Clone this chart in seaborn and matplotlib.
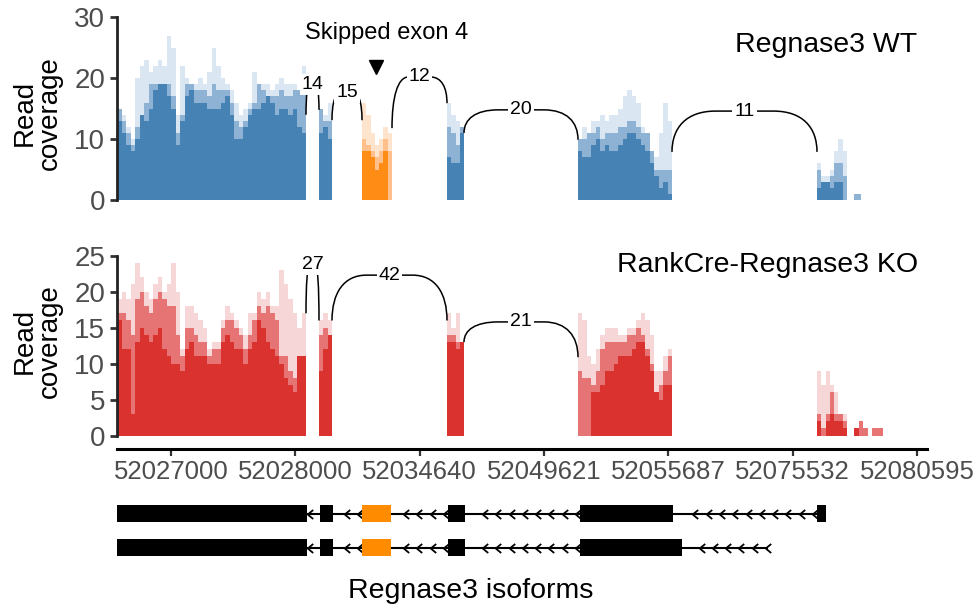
import numpy as np
import matplotlib
matplotlib.use("Agg")
import matplotlib.pyplot as plt
from matplotlib.path import Path
from matplotlib.patches import PathPatch
import seaborn as sns

# ---------------- data ----------------
# exon blocks on the compressed genomic axis (start, end)
wt_exons = [(0, 189), (202, 215), (245, 275), (330, 347), (461, 555), (700, 730), (737, 744)]
ko_exons = [(0, 189), (202, 215), (330, 347), (461, 555), (700, 730), (737, 751), (755, 766)]

# read coverage per exon: lowest, middle and highest replicate
wt_low = [
    [13, 11, 9, 8, 10, 14, 13, 15, 18, 19, 19, 17, 15, 9, 13, 17, 18, 16, 16, 16, 15,
     15, 15, 16, 17, 14, 10, 10, 12, 14, 15, 15, 16, 17, 16, 14, 15, 15, 14, 15, 12, 11],
    [11, 12, 10],
    [8, 8, 7, 5, 6, 8, 0],
    [7, 6, 6, 11],
    [8, 7, 7, 9, 10, 8, 9, 8, 8, 9, 10, 11, 11, 10, 9, 8, 6, 4, 2, 3, 1],
    [2, 3, 3, 2, 3, 3, 0],
    [0],
]
wt_mid = [
    [15, 13, 11, 9, 12, 14, 16, 19, 19, 19, 19, 19, 17, 11, 14, 19, 19, 18, 18, 18, 17,
     19, 18, 18, 18, 16, 13, 12, 13, 15, 16, 19, 18, 17, 17, 17, 18, 17, 17, 18, 18, 18],
    [15, 13, 13],
    [10, 9, 8, 7, 8, 10, 8],
    [12, 11, 9, 12],
    [10, 10, 11, 11, 12, 10, 11, 11, 11, 12, 12, 13, 13, 12, 11, 11, 8, 5, 5, 5, 5],
    [5, 3, 3, 4, 6, 6, 4],
    [1],
]
wt_high = [
    [15, 14, 12, 10, 20, 22, 23, 21, 22, 23, 22, 27, 25, 14, 22, 20, 19, 19, 20, 19, 21,
     25, 22, 20, 19, 18, 16, 14, 15, 16, 21, 19, 19, 19, 18, 19, 20, 19, 19, 19, 18, 22],
    [15, 14, 16],
    [16, 14, 11, 9, 10, 12, 11],
    [16, 14, 13, 12],
    [10, 12, 11, 13, 13, 14, 13, 14, 14, 15, 17, 18, 17, 16, 12, 11, 8, 7, 11, 16, 13],
    [6, 4, 4, 5, 8, 10, 8],
    [1],
]
wt_skipped = 2  # index of the alternatively spliced exon

ko_low = [
    [16, 12, 12, 3, 13, 15, 14, 13, 14, 15, 12, 11, 10, 10, 9, 12, 13, 11, 11, 11, 10,
     10, 10, 13, 14, 13, 12, 12, 10, 12, 13, 16, 15, 13, 12, 11, 10, 8, 7, 6, 11, 11],
    [9, 12, 14],
    [13, 13, 12, 13],
    [0, 0, 0, 6, 6, 7, 9, 9, 10, 11, 11, 11, 12, 13, 13, 11, 9, 6, 5, 7, 7],
    [2, 0, 2, 3, 2, 2, 1],
    [1, 0, 0],
    [0, 0],
]
ko_mid = [
    [17, 17, 16, 14, 19, 20, 18, 17, 19, 20, 19, 18, 18, 14, 11, 15, 15, 14, 13, 13, 11,
     12, 12, 15, 16, 16, 15, 14, 12, 14, 16, 18, 17, 18, 17, 16, 11, 11, 9, 8, 11, 11],
    [14, 15, 14],
    [14, 14, 13, 13],
    [9, 8, 8, 7, 9, 12, 13, 13, 13, 13, 13, 14, 14, 15, 14, 12, 10, 6, 7, 9, 11],
    [3, 1, 3, 6, 3, 3, 2],
    [1, 2, 1],
    [1, 1],
]
ko_high = [
    [19, 20, 19, 21, 24, 22, 20, 19, 21, 22, 20, 21, 24, 20, 12, 18, 18, 17, 16, 15, 12,
     13, 13, 16, 18, 17, 16, 15, 14, 17, 17, 20, 19, 20, 18, 18, 23, 21, 19, 17, 15, 17],
    [16, 17, 16],
    [17, 15, 17, 13],
    [17, 16, 11, 10, 12, 14, 15, 15, 15, 14, 14, 15, 15, 16, 17, 16, 14, 9, 9, 11, 12],
    [9, 7, 9, 7, 6, 3, 3],
    [1, 2, 1],
    [1, 1],
]

# splice junctions: donor, acceptor, read count
wt_junctions = [(189, 202, 14), (215, 245, 15), (275, 330, 12), (347, 461, 20), (555, 700, 11)]
ko_junctions = [(189, 202, 27), (215, 330, 42), (347, 461, 21)]
# arc anchors: left height, right height, apex height
wt_arc_y = [(14.0, 14.8, 19.0), (13.1, 13.1, 17.7), (11.8, 15.9, 20.2), (11.0, 9.9, 14.8), (7.9, 7.9, 14.6)]
ko_arc_y = [(17.0, 16.0, 23.8), (16.0, 16.0, 22.3), (13.0, 10.9, 15.8)]

# axis ticks
tick_labels = ["52027000", "52028000", "52034640", "52049621", "52055687", "52075532", "52080595"]
wt_yticks = [0, 10, 20, 30]
ko_yticks = [0, 5, 10, 15, 20, 25]

# transcript models
iso_exons = [
    [(0, 190), (203, 216), (245, 274), (331, 348), (463, 556), (700, 709)],
    [(0, 190), (203, 216), (245, 274), (331, 348), (463, 565)],
]
iso_line_end = [700, 651]
iso_alt_exon = 2

# ---------------- style ----------------
sns.set_style("white")
plt.rcParams["font.family"] = ["Liberation Sans", "DejaVu Sans"]
plt.rcParams["text.color"] = "black"

BLUE = ["#dae6f1", "#8eb2d4", "#4682b4"]
ORANGE = ["#ffe4cd", "#ffc08c", "#ff8c14"]
RED = ["#f6d6d6", "#e67474", "#d9322f"]
TICK_GRAY = "#4d4d4d"
AXIS_COL = "#222222"

W, H = 975, 604
fig = plt.figure(figsize=(W / 100, H / 100), dpi=100)
X0, X1 = 117, 927
ax_wt = fig.add_axes([X0 / W, 1 - 200 / H, (X1 - X0) / W, 182.7 / H])
ax_ko = fig.add_axes([X0 / W, 1 - 449 / H, (X1 - X0) / W, 193.3 / H])
ax_tx = fig.add_axes([X0 / W, 1 - 570 / H, (X1 - X0) / W, 80 / H])


def draw_coverage(ax, exons, layers, palette, alt_idx=None, alt_palette=None):
    edges_list, centers = [], []
    for (a, b), vals in zip(exons, layers[0]):
        e = np.linspace(a, b, len(vals) + 1)
        edges_list.append(e)
        centers.append((e[:-1] + e[1:]) / 2)
    edges = [float(v) for v in np.unique(np.concatenate(edges_list))]
    # highest replicate at the back, lowest in front
    for depth, layer in enumerate(layers[::-1]):
        groups = {}
        for i, vals in enumerate(layer):
            use_alt = alt_idx is not None and i == alt_idx
            key = "alt" if use_alt else "main"
            groups.setdefault(key, ([], []))
            groups[key][0].extend(centers[i])
            groups[key][1].extend(vals)
        for key, (xs, ws) in groups.items():
            col = (alt_palette if key == "alt" else palette)[depth]
            sns.histplot(x=np.array(xs), weights=np.array(ws, dtype=float), bins=edges,
                         color=col, alpha=1, element="bars", fill=True,
                         linewidth=0, edgecolor="none", ax=ax, zorder=2)
    ax.set_xlabel("")
    ax.set_ylabel("")


def draw_arc(ax, x0, x1, y0, y1, yt, n):
    w = x1 - x0
    c = 0.3 * w
    verts = [(x0, y0), (x0, y0 + 0.6 * (yt - y0)), (x0 + 0.1 * w, yt), (x0 + c, yt),
             (x1 - c, yt),
             (x1 - 0.1 * w, yt), (x1, y1 + 0.6 * (yt - y1)), (x1, y1)]
    codes = [Path.MOVETO, Path.CURVE4, Path.CURVE4, Path.CURVE4, Path.LINETO,
             Path.CURVE4, Path.CURVE4, Path.CURVE4]
    ax.add_patch(PathPatch(Path(verts, codes), fill=False, lw=1.1, edgecolor="black",
                           clip_on=False, zorder=5))
    ax.text((x0 + x1) / 2, yt, str(n), ha="center", va="center", fontsize=14,
            color="black", zorder=6, clip_on=False,
            bbox=dict(boxstyle="square,pad=0.1", fc="white", ec="none"))


def style_axis(ax, yticks):
    for s in ["top", "right"]:
        ax.spines[s].set_visible(False)
    ax.spines["left"].set_linewidth(2)
    ax.spines["left"].set_color(AXIS_COL)
    ax.spines["left"].set_bounds(yticks[0], yticks[-1])
    ax.set_yticks(yticks)
    ax.set_yticklabels([str(t) for t in yticks])
    ax.tick_params(axis="y", direction="out", length=5, width=2, color="#333333",
                   labelsize=20, labelcolor=TICK_GRAY, pad=3.5, left=True)
    ax.set_xlim(0, X1 - X0)


# --- wild-type track ---
draw_coverage(ax_wt, wt_exons, [wt_low, wt_mid, wt_high], BLUE, wt_skipped, ORANGE)
for (a, b, n), (y0, y1, yt) in zip(wt_junctions, wt_arc_y):
    draw_arc(ax_wt, a, b, y0, y1, yt, n)
style_axis(ax_wt, wt_yticks)
ax_wt.set_ylim(0, 30)
ax_wt.spines["bottom"].set_visible(False)
ax_wt.set_xticks([])
ax_wt.text(800, 25.5, "Regnase3 WT", ha="right", va="center", fontsize=20.5, color="black")
ax_wt.text(270, 27.4, "Skipped exon 4", ha="center", va="center", fontsize=17, color="black")
ax_wt.plot([259], [21.8], marker="v", ms=10, color="black", clip_on=False)

# --- knockout track ---
draw_coverage(ax_ko, ko_exons, [ko_low, ko_mid, ko_high], RED)
for (a, b, n), (y0, y1, yt) in zip(ko_junctions, ko_arc_y):
    draw_arc(ax_ko, a, b, y0, y1, yt, n)
style_axis(ax_ko, ko_yticks)
ax_ko.set_ylim(-1.85, 25)
ax_ko.spines["bottom"].set_linewidth(2.2)
ax_ko.spines["bottom"].set_color("black")
tick_pos = np.linspace(54, 800, len(tick_labels))
ax_ko.set_xticks(tick_pos)
ax_ko.set_xticklabels(tick_labels)
ax_ko.tick_params(axis="x", direction="out", length=5, width=1.6, color="#333333",
                  labelsize=18.5, labelcolor=TICK_GRAY, pad=3, bottom=True)
ax_ko.text(801, 23.7, "RankCre-Regnase3 KO", ha="right", va="center", fontsize=20.5,
           color="black")

for yc in (1 - 113 / H, 1 - 341 / H):
    fig.text(37.5 / W, yc, "Read\ncoverage", rotation=90, ha="center", va="center",
             fontsize=20, linespacing=0.95, multialignment="center", color="black")

# --- transcript models ---
ax_tx.set_xlim(0, X1 - X0)
ax_tx.set_ylim(0, 80)
ax_tx.axis("off")
chevron = Path([(0.6, 1.0), (-0.6, 0.0), (0.6, -1.0)], [Path.MOVETO, Path.LINETO, Path.LINETO])
row_y = [56.5, 22.5]
for exons, end, yc in zip(iso_exons, iso_line_end, row_y):
    ax_tx.hlines(yc, exons[0][1], end, color="black", lw=1.5, zorder=1)
    introns = [(exons[i][1], exons[i + 1][0]) for i in range(len(exons) - 1)]
    if end > exons[-1][1]:
        introns.append((exons[-1][1], end + 2))
    xs = []
    for a, b in introns:
        n = int((b - a) // 13.3)
        if n == 0:
            xs.append(a + 3)
        else:
            xs.extend(b - 2 - 13.3 * np.arange(n))
    ax_tx.plot(xs, [yc] * len(xs), linestyle="none", marker=chevron, ms=6.5,
               mew=1.3, mec="black", mfc="none", zorder=2)
    cols = ["#ff8c00" if i == iso_alt_exon else "black" for i in range(len(exons))]
    ax_tx.broken_barh([(a, b - a) for a, b in exons], (yc - 8.5, 17),
                      facecolors=cols, edgecolor="none", zorder=3)

fig.text(471 / W, 1 - 591 / H, "Regnase3 isoforms", ha="center", va="center",
         fontsize=20.5, color="black")

fig.savefig("out.png", dpi=100)
